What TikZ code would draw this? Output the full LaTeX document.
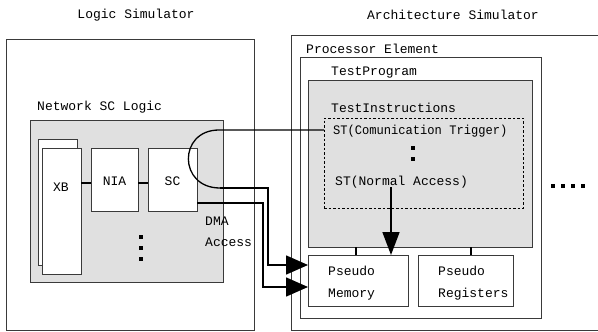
\documentclass[tikz,border=0pt]{standalone}
\usepackage{fontspec}
\setmonofont{Liberation Mono}
\usetikzlibrary{arrows.meta}
\definecolor{linec}{HTML}{3A3A3A}
\definecolor{fillg}{HTML}{E0E0E0}
\begin{document}
\begin{tikzpicture}[x=1pt,y=-1pt,
  box/.style={draw=linec, line width=0.9pt, fill=white, anchor=north west, inner sep=0pt, outer sep=0pt},
  gbox/.style={box, fill=fillg},
  dbox/.style={draw=black, line width=0.8pt, dashed, dash pattern=on 2.5pt off 2pt, anchor=north west, inner sep=0pt, outer sep=0pt},
  lbl/.style={font=\fontsize{13}{15}\selectfont\ttfamily, inner sep=0pt, anchor=base west},
  clbl/.style={font=\fontsize{13}{15}\selectfont\ttfamily, inner sep=0pt},
  conn/.style={draw=black, line width=1.6pt},
  link/.style={draw=black, line width=1.1pt},
  bigarrow/.style={-{Triangle[length=22pt,width=19pt]}},
  dotm/.style={fill=black, minimum size=3.2pt, inner sep=0pt}
]
\useasboundingbox (0,0) rectangle (598,332);
% titles
\node[clbl] (tlogic) at (136,15) {Logic Simulator};
\node[clbl] (tarch) at (453,15) {Architecture Simulator};
% logic simulator
\node[box, minimum width=248pt, minimum height=291pt] (logic) at (6,39) {};
\node[lbl] (netl) at (37,110) {Network SC Logic};
\node[gbox, minimum width=193pt, minimum height=162pt] (net) at (30,120) {};
\node[box, minimum width=39pt, minimum height=126pt] (xbb) at (38,139) {};
\node[box, minimum width=39pt, minimum height=126pt] (xb) at (42,148) {};
\node[box, minimum width=47pt, minimum height=63pt] (nia) at (91,148) {};
\node[box, minimum width=49pt, minimum height=63pt] (sc) at (148,148) {};
\node[clbl] (xbl) at (61,187) {XB};
\node[clbl] (nial) at (114.5,181) {NIA};
\node[clbl] (scl) at (172.5,181) {SC};
\draw[link] (xb.east |- 0,183) -- (nia.west |- 0,183);
\draw[link] (nia.east |- 0,183) -- (sc.west |- 0,183);
\node[dotm] (d1) at (141,237) {};
\node[dotm] (d2) at (141,248) {};
\node[dotm] (d3) at (141,259) {};
\node[lbl] (dma1) at (205,225) {DMA};
\node[lbl] (dma2) at (205,246) {Access};
% architecture simulator
\draw[draw=linec, line width=0.9pt] (610,35) -| (291,330) -- (610,330);
\node[lbl] (pel) at (306,53) {Processor Element};
\node[box, minimum width=241pt, minimum height=261pt] (pe) at (300,57) {};
\node[lbl] (tpl) at (331,75) {TestProgram};
\node[gbox, minimum width=224pt, minimum height=167pt] (tp) at (308,80) {};
\node[lbl] (til) at (331,112) {TestInstructions};
\node[dbox, minimum width=199pt, minimum height=90pt] (st) at (324,118) {};
\node[lbl, xscale=0.93] (stc) at (333,134) {ST(Comunication Trigger)};
\node[dotm] (e1) at (413,148) {};
\node[dotm] (e2) at (413,159) {};
\node[lbl] (stn) at (335,185) {ST(Normal Access)};
\node[box, minimum width=100pt, minimum height=51pt] (pmem) at (308,255) {};
\node[box, minimum width=95pt, minimum height=51pt] (preg) at (418,255) {};
\node[lbl] (pm1) at (328,275) {Pseudo};
\node[lbl] (pm2) at (328,297) {Memory};
\node[lbl] (pr1) at (438,275) {Pseudo};
\node[lbl] (pr2) at (438,297) {Registers};
\draw[link] (tp.south -| 356,0) -- (pmem.north -| 356,0);
\draw[link] (tp.south -| 471,0) -- (preg.north -| 471,0);
\node[dotm] (f1) at (553,186) {};
\node[dotm] (f2) at (563,186) {};
\node[dotm] (f3) at (573,186) {};
\node[dotm] (f4) at (583,186) {};
% connectors
\coordinate (ca) at (219,130);
\coordinate (cb) at (220,188);
\draw[conn, line width=1.3pt] (st.west |- ca) -- (ca) .. controls (178,130) and (178,188) .. (cb);
\draw[conn, bigarrow] (cb) -- (268,188) |- (pmem.west |- 0,265);
\draw[conn, bigarrow] (sc.east |- 0,203) -- (263,203) |- (pmem.west |- 0,287);
\draw[conn, bigarrow, -{Triangle[length=23pt,width=17pt]}] (391,187) -- (pmem.north -| 391,0);
\end{tikzpicture}
\end{document}
